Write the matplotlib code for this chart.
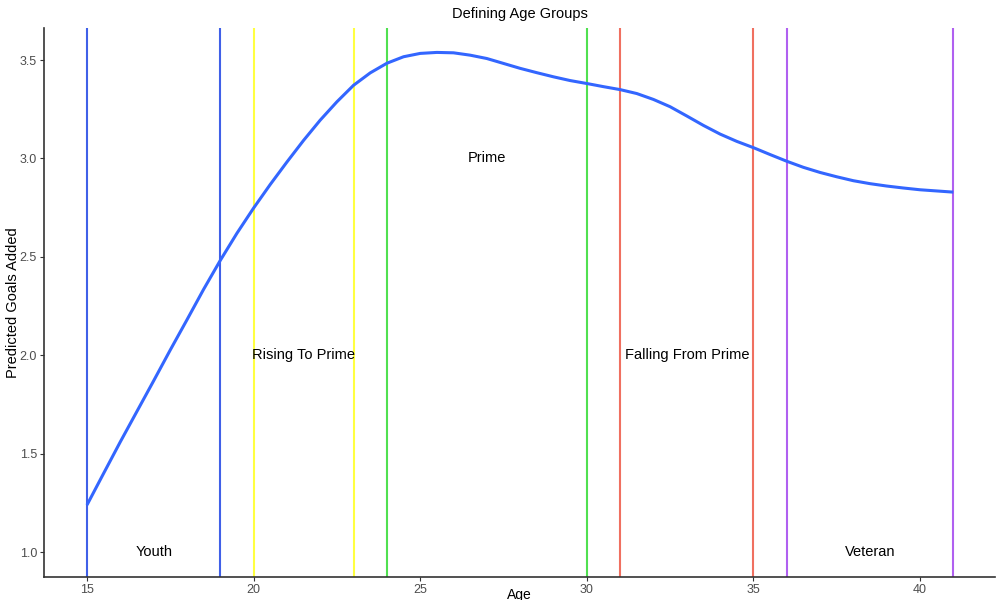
import matplotlib.pyplot as plt
import numpy as np

plt.rcParams['font.family'] = ['Liberation Sans', 'DejaVu Sans']

# predicted goals added by age (every half year)
ages = [15, 15.5, 16, 16.5, 17, 17.5, 18, 18.5, 19, 19.5,
        20, 20.5, 21, 21.5, 22, 22.5, 23, 23.5, 24, 24.5,
        25, 25.5, 26, 26.5, 27, 27.5, 28, 28.5, 29, 29.5,
        30, 30.5, 31, 31.5, 32, 32.5, 33, 33.5, 34, 34.5,
        35, 35.5, 36, 36.5, 37, 37.5, 38, 38.5, 39, 39.5,
        40, 40.5, 41]
goals = [1.239, 1.40, 1.56, 1.715, 1.87, 2.027, 2.18, 2.335, 2.482, 2.62,
         2.748, 2.868, 2.982, 3.092, 3.195, 3.288, 3.372, 3.435, 3.484, 3.517,
         3.534, 3.539, 3.537, 3.525, 3.508, 3.483, 3.458, 3.436, 3.415, 3.396,
         3.381, 3.365, 3.35, 3.33, 3.30, 3.263, 3.216, 3.168, 3.124, 3.087,
         3.055, 3.02, 2.986, 2.955, 2.929, 2.907, 2.887, 2.872, 2.86, 2.85,
         2.841, 2.835, 2.829]

# age group boundaries
group_names = ["Youth", "Rising To Prime", "Prime", "Falling From Prime", "Veteran"]
group_start = [15, 20, 24, 31, 36]
group_end = [19, 23, 30, 35, 41]
group_colors = ["#4060E8", "#FFFF40", "#50E050", "#F07060", "#B060F0"]
label_x = [17, 21.5, 27, 33, 38.5]
label_y = [1.0, 2.0, 3.0, 2.0, 1.0]

fig = plt.figure(figsize=(10, 6), dpi=100)
ax = fig.add_axes([0.044, 0.0383, 0.951, 0.915])

for s, e, c in zip(group_start, group_end, group_colors):
    ax.axvline(s, color=c, lw=1.5)
    ax.axvline(e, color=c, lw=1.5)

ax.plot(ages, goals, color="#3366FF", lw=2.2, solid_capstyle="butt")

for name, x, y in zip(group_names, label_x, label_y):
    ax.text(x, y, name, ha="center", va="center", fontsize=10.5, color="black")

ax.set_xlim(13.71, 42.25)
ax.set_ylim(0.873, 3.663)
ax.set_xticks([15, 20, 25, 30, 35, 40])
ax.set_yticks([1.0, 1.5, 2.0, 2.5, 3.0, 3.5])
ax.set_yticklabels(["1.0", "1.5", "2.0", "2.5", "3.0", "3.5"])
ax.tick_params(labelsize=9, labelcolor="#4d4d4d", color="#333333", length=3, pad=2)
for sp in ["top", "right"]:
    ax.spines[sp].set_visible(False)
for sp in ["left", "bottom"]:
    ax.spines[sp].set_color("#333333")
    ax.spines[sp].set_linewidth(1.2)

ax.set_title("Defining Age Groups", fontsize=10.5, pad=7)
ax.set_xlabel("Age", fontsize=10)
ax.xaxis.set_label_coords(0.5, -0.02)
ax.set_ylabel("Predicted Goals Added", fontsize=10.5)
ax.yaxis.set_label_coords(-0.025, 0.5)

fig.savefig("out.png", dpi=100)
